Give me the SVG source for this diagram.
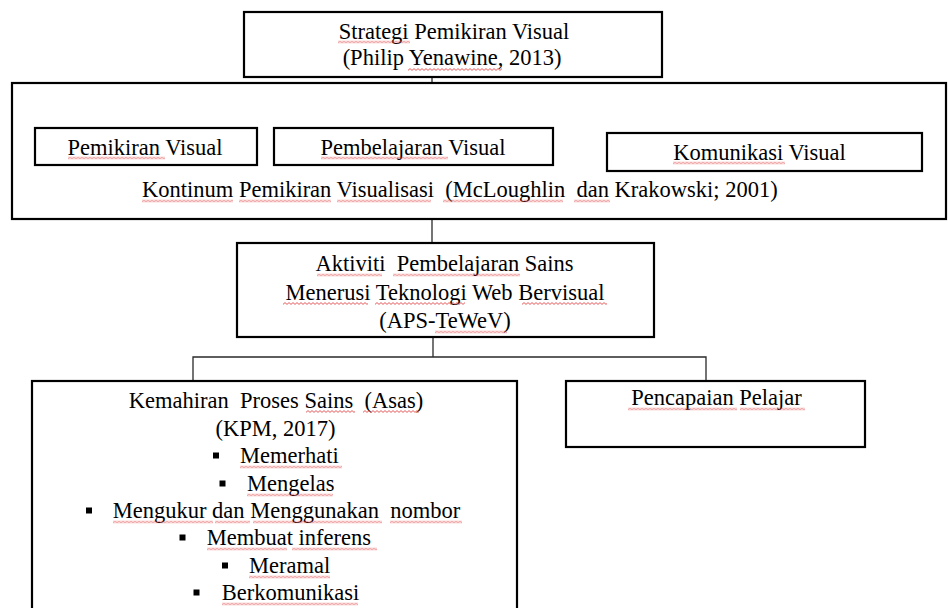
<svg xmlns="http://www.w3.org/2000/svg" width="948" height="608" viewBox="0 0 948 608">
<style>
.box{fill:#fff;stroke:#000;stroke-width:2.2}
.conn{fill:none;stroke:#2a2a2a;stroke-width:1.3}
.t{font-family:"Liberation Serif","Times New Roman",serif;font-size:22.5px;fill:#000;white-space:pre}
.m{text-anchor:middle}
.b{fill:#000}
.sq{fill:url(#wavy)}
</style>
<defs>
<pattern id="wavy" patternUnits="userSpaceOnUse" width="4" height="3">
<path d="M0 2.4 L2 0.6 L4 2.4" fill="none" stroke="#e0484a" stroke-width="0.9"/>
</pattern>
</defs>
<rect width="948" height="608" fill="#fff"/>

<g id="connectors">
<path class="conn" d="M432 77 V128"/>
<path class="conn" d="M133 128 V109 H747 V133"/>
<path class="conn" d="M432 219 V243"/>
<path class="conn" d="M433 337 V357"/>
<path class="conn" d="M193 381 V357 H706 V381"/>
</g>

<g id="kontinum">
<rect class="box" x="12" y="83" width="934" height="136"/>
<text class="t" x="142" y="197">Kontinum Pemikiran Visualisasi  (McLoughlin  dan Krakowski; 2001)</text>
<rect class="sq" transform="translate(142,199.5)" width="91" height="3"/>
<rect class="sq" transform="translate(239,199.5)" width="92" height="3"/>
<rect class="sq" transform="translate(337,199.5)" width="94" height="3"/>
<rect class="sq" transform="translate(443,199.5)" width="120" height="3"/>
<rect class="sq" transform="translate(574,199.5)" width="36" height="3"/>
</g>

<g id="strategi">
<rect class="box" x="244" y="12" width="418" height="65"/>
<text class="t m" x="454" y="38.5">Strategi Pemikiran Visual</text>
<text class="t m" x="452" y="65">(Philip Yenawine, 2013)</text>
<rect class="sq" transform="translate(338,40.5)" width="72" height="3"/>
<rect class="sq" transform="translate(408,68)" width="94" height="3"/>
</g>

<g id="pemikiran-visual">
<rect class="box" x="35" y="128" width="222" height="37"/>
<text class="t m" x="145" y="154.5">Pemikiran Visual</text>
<rect class="sq" transform="translate(68,156.5)" width="97" height="3"/>
</g>

<g id="pembelajaran-visual">
<rect class="box" x="274" y="128" width="279" height="37"/>
<text class="t m" x="413" y="154.5">Pembelajaran Visual</text>
<rect class="sq" transform="translate(321,156.5)" width="127" height="3"/>
</g>

<g id="komunikasi-visual">
<rect class="box" x="607" y="133" width="315" height="38"/>
<text class="t m" x="759.5" y="159.5">Komunikasi Visual</text>
<rect class="sq" transform="translate(673,161.5)" width="112" height="3"/>
</g>

<g id="aps-tewev">
<rect class="box" x="237" y="243" width="417" height="94"/>
<text class="t m" x="444.5" y="271">Aktiviti  Pembelajaran Sains</text>
<text class="t m" x="445" y="299.5">Menerusi Teknologi Web Bervisual</text>
<text class="t m" x="445" y="328">(APS-TeWeV)</text>
<rect class="sq" transform="translate(317,273.5)" width="65" height="3"/>
<rect class="sq" transform="translate(393,273.5)" width="127" height="3"/>
<rect class="sq" transform="translate(283,302)" width="85" height="3"/>
<rect class="sq" transform="translate(375,302)" width="90" height="3"/>
<rect class="sq" transform="translate(522,302)" width="85" height="3"/>
<rect class="sq" transform="translate(435,330.5)" width="72" height="3"/>
</g>

<g id="kemahiran">
<rect class="box" x="32" y="381" width="485" height="240"/>
<text class="t m" x="276" y="407.5">Kemahiran  Proses Sains  (Asas)</text>
<text class="t m" x="275.5" y="435.5">(KPM, 2017)</text>
<rect class="b" x="213" y="452.5" width="6" height="6"/>
<text class="t" x="240" y="463">Memerhati</text>
<rect class="b" x="219.5" y="480.5" width="6" height="6"/>
<text class="t" x="247" y="491">Mengelas</text>
<rect class="b" x="86" y="507.5" width="6" height="6"/>
<text class="t" x="112.7" y="518">Mengukur dan Menggunakan  nombor</text>
<rect class="b" x="179.5" y="534.5" width="6" height="6"/>
<text class="t" x="206.7" y="545">Membuat inferens</text>
<rect class="b" x="222" y="562.5" width="6" height="6"/>
<text class="t" x="249" y="573">Meramal</text>
<rect class="b" x="193.5" y="589.5" width="6" height="6"/>
<text class="t" x="221.7" y="600">Berkomunikasi</text>
<rect class="sq" transform="translate(306,410)" width="49" height="3"/>
<rect class="sq" transform="translate(363,410)" width="56" height="3"/>
<rect class="sq" transform="translate(240,465.5)" width="102" height="3"/>
<rect class="sq" transform="translate(247,493.5)" width="86" height="3"/>
<rect class="sq" transform="translate(113,520.5)" width="100" height="3"/>
<rect class="sq" transform="translate(215,520.5)" width="35" height="3"/>
<rect class="sq" transform="translate(253,520.5)" width="129" height="3"/>
<rect class="sq" transform="translate(390,520.5)" width="72" height="3"/>
<rect class="sq" transform="translate(207,547.5)" width="80" height="3"/>
<rect class="sq" transform="translate(292,547.5)" width="85" height="3"/>
<rect class="sq" transform="translate(249,575.5)" width="81" height="3"/>
<rect class="sq" transform="translate(222,602.5)" width="136" height="3"/>
</g>

<g id="pencapaian">
<rect class="box" x="566" y="381" width="299" height="66"/>
<text class="t m" x="716.5" y="405">Pencapaian Pelajar</text>
<rect class="sq" transform="translate(628,407.5)" width="109" height="3"/>
<rect class="sq" transform="translate(740,407.5)" width="65" height="3"/>
</g>
</svg>
